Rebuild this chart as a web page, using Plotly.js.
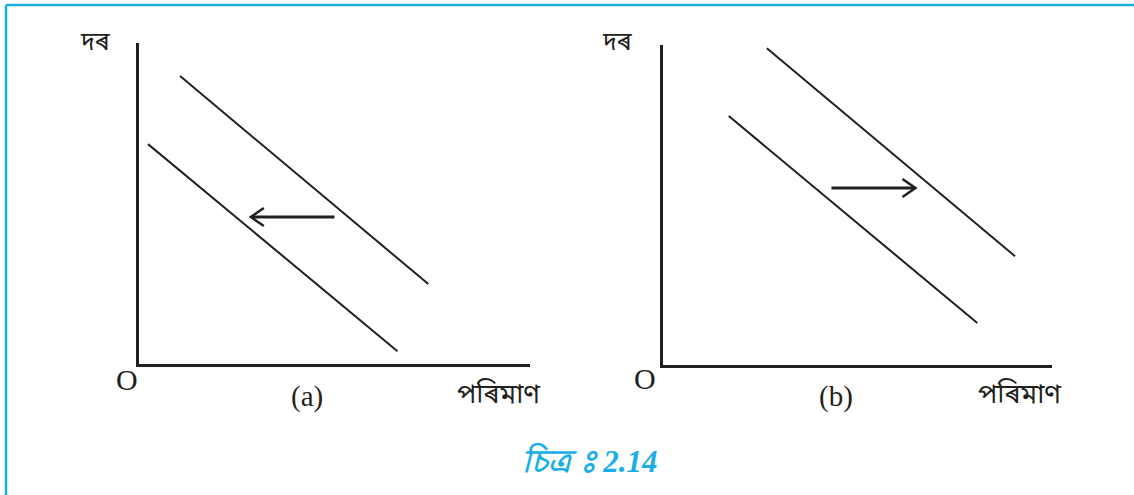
<!DOCTYPE html>
<html><head><meta charset="utf-8">
<script src="https://cdn.plot.ly/plotly-3.0.1.min.js"></script>
<style>html,body{margin:0;padding:0;background:#fff}#c{width:1134px;height:495px}</style>
</head><body><div id="c"></div>
<script>
// Panel (a): curve shifts to the left
const aUpperX = [10.5, 74.0], aUpperY = [89.7, 24.9];
const aLowerX = [2.3, 66.1],  aLowerY = [68.5, 4.0];
const aArrowX = [50.0, 28.6], aArrowY = [45.8, 45.8];
// Panel (b): curve shifts to the right
const bLowerX = [16.9, 80.8], bLowerY = [77.8, 13.1];
const bUpperX = [26.7, 90.5], bUpperY = [99.0, 34.0];
const bArrowX = [43.3, 64.9], bArrowY = [55.3, 55.3];

const yLabel = "দৰ", xLabel = "পৰিমাণ", origin = "O";
const panelLabels = ["(a)", "(b)"];
const captionWord = "চিত্ৰ", captionSign = "\u00A0ঃ\u2009", captionNum = "2.14";

const ink = "#231f20", blue = "#1aaee6";
const bn = "'Noto Sans Bengali','Noto Serif Bengali','Lohit Bengali','FreeSerif','Noto Sans',sans-serif";
const serif = "'Liberation Serif','DejaVu Serif',serif";

function seg(x, y, xa, ya) {
  return {x: x, y: y, xaxis: xa, yaxis: ya, mode: "lines", type: "scatter",
          line: {color: ink, width: 2}, hoverinfo: "skip", showlegend: false};
}
// shaft + chevron head; head arms derived from the arrow's tip
function arrow(x, y, xa, ya, pxPerX, pxPerY) {
  const tipX = x[1], tipY = y[1], dir = Math.sign(x[1] - x[0]);
  const back = 13 / pxPerX, side = 9 / pxPerY;
  const shaft = {x: x, y: y, xaxis: xa, yaxis: ya, mode: "lines", type: "scatter",
          line: {color: ink, width: 3}, hoverinfo: "skip", showlegend: false};
  const head = {x: [tipX - dir * back, tipX, tipX - dir * back],
          y: [tipY + side, tipY, tipY - side], xaxis: xa, yaxis: ya, mode: "lines",
          type: "scatter", line: {color: ink, width: 2.5}, hoverinfo: "skip", showlegend: false};
  return [shaft, head];
}
const data = [
  seg(aUpperX, aUpperY, "x", "y"),
  seg(aLowerX, aLowerY, "x", "y"),
  ...arrow(aArrowX, aArrowY, "x", "y", 3.91, 3.21),
  seg(bLowerX, bLowerY, "x2", "y2"),
  seg(bUpperX, bUpperY, "x2", "y2"),
  ...arrow(bArrowX, bArrowY, "x2", "y2", 3.89, 3.20)
];
const ax = (dom, anchor) => ({domain: dom, range: [0, 100], anchor: anchor, showline: true,
  linecolor: ink, linewidth: 3, showgrid: false, zeroline: false, showticklabels: false,
  ticks: "", fixedrange: true});
const W = 1134, H = 495;
const px = v => v / W, py = v => (H - v) / H;
function txt(t, x, y, font, xa, ya) {
  return {text: t, x: px(x), y: py(y), xref: "paper", yref: "paper", showarrow: false,
          xanchor: xa || "center", yanchor: ya || "middle", font: font};
}
const layout = {
  width: W, height: H, margin: {l: 0, r: 0, t: 0, b: 0},
  paper_bgcolor: "#fff", plot_bgcolor: "rgba(0,0,0,0)", showlegend: false,
  xaxis: ax([px(139), px(530)], "y"),
  yaxis: ax([py(364), py(43)], "x"),
  xaxis2: ax([px(663), px(1052)], "y2"),
  yaxis2: ax([py(365), py(45)], "x2"),
  shapes: [
    {type: "line", xref: "paper", yref: "paper", x0: px(6), x1: 1, y0: py(5), y1: py(5), line: {color: blue, width: 2.5}},
    {type: "line", xref: "paper", yref: "paper", x0: px(6), x1: px(6), y0: py(5), y1: 0, line: {color: blue, width: 2.5}}
  ],
  annotations: [
    txt(yLabel, 95, 43, {family: bn, size: 25, color: ink}),
    txt(origin, 127, 379, {family: serif, size: 30, color: ink}),
    txt(panelLabels[0], 307, 396, {family: serif, size: 29, color: ink}),
    txt(xLabel, 499, 396, {family: bn, size: 27, color: ink}),
    txt(yLabel, 617, 43, {family: bn, size: 25, color: ink}),
    txt(origin, 645, 378, {family: serif, size: 30, color: ink}),
    txt(panelLabels[1], 836, 396, {family: serif, size: 29, color: ink}),
    txt(xLabel, 1020, 396, {family: bn, size: 27, color: ink}),
    txt("<b><i>" + captionWord + "<span style='font-family:" + bn + "'>" + captionSign + "</span>" + captionNum + "</i></b>",
        589, 460, {family: serif, size: 31, color: blue})
  ]
};
Plotly.newPlot("c", data, layout, {displayModeBar: false, staticPlot: true});
</script></body></html>
